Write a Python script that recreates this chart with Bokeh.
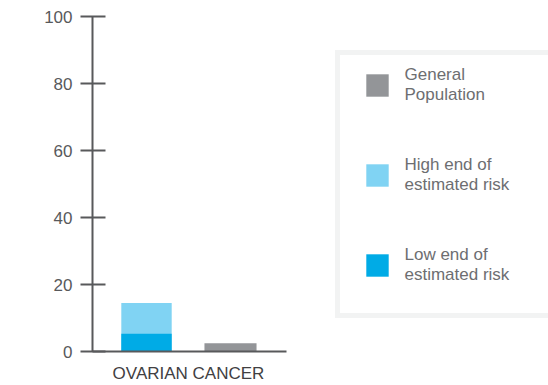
import math
from bokeh.plotting import figure
from bokeh.models import Range1d, FixedTicker, Legend, LegendItem, Label, ColumnDataSource
from bokeh.embed import file_html
from bokeh.resources import INLINE

# ---- data ----
categories = ["OVARIAN CANCER"]
low_end_risk = [5.3]
high_end_risk = [14.5]
general_population = [2.5]
y_ticks = [0, 20, 40, 60, 80, 100]
legend_labels = ["General\nPopulation", "High end of\nestimated risk", "Low end of\nestimated risk"]
y_title = "CUMULATIVE LIFETIME RISK (%)"

# ---- styles ----
FONT = "Liberation Sans"
AXIS_COL = "#58595b"
TEXT_DARK = "#414042"
C_GRAY = "#939598"
C_LIGHT = "#80d3f3"
C_BLUE = "#00abe6"

PX = 84.0  # pixels per x unit
x_start = -96 / PX
x_end = x_start + 456 / PX

p = figure(width=548, height=385, output_backend="svg", toolbar_location=None,
           x_range=Range1d(x_start, x_end), y_range=Range1d(0, 100),
           min_border_left=92, min_border_right=0, min_border_top=16, min_border_bottom=34)
p.outline_line_color = None
p.xgrid.visible = False
p.ygrid.visible = False
p.background_fill_color = "white"
p.border_fill_color = "white"

cat_x = list(range(len(categories)))
risk_x = [c - 0.5 for c in cat_x]
gen_x = [c + 0.5 for c in cat_x]

src_risk = ColumnDataSource(dict(x=risk_x, high=high_end_risk, low=low_end_risk))
src_gen = ColumnDataSource(dict(x=gen_x, top=general_population))

r_gen = p.vbar(x="x", top="top", bottom=0, width=0.62, source=src_gen,
               fill_color=C_GRAY, line_color=None)
r_high = p.vbar(x="x", top="high", bottom=0, width=0.6, source=src_risk,
                fill_color=C_LIGHT, line_color=None)
r_low = p.vbar(x="x", top="low", bottom=0, width=0.6, source=src_risk,
               fill_color=C_BLUE, line_color=None)

# y axis
ya = p.yaxis[0]
ya.ticker = FixedTicker(ticks=y_ticks)
ya.bounds = (0, 100)
ya.minor_tick_line_color = None
ya.major_tick_in = 13
ya.major_tick_out = 12
ya.major_tick_line_width = 2
ya.major_tick_line_color = AXIS_COL
ya.axis_line_width = 2
ya.axis_line_color = AXIS_COL
ya.major_label_standoff = 8
ya.major_label_text_font = FONT
ya.major_label_text_font_size = "17px"
ya.major_label_text_color = AXIS_COL

# x axis
xa = p.xaxis[0]
xa.ticker = FixedTicker(ticks=cat_x)
xa.major_label_overrides = {c: name for c, name in zip(cat_x, categories)}
xa.bounds = (x_start, x_start + 194 / PX)
xa.minor_tick_line_color = None
xa.major_tick_in = 0
xa.major_tick_out = 0
xa.axis_line_width = 2
xa.axis_line_color = AXIS_COL
xa.major_label_standoff = 12
xa.major_label_text_font = FONT
xa.major_label_text_font_size = "17px"
xa.major_label_text_color = TEXT_DARK

# y title
p.add_layout(Label(x=x_start - 74 / PX, y=45.4, text=y_title, angle=math.pi / 2,
                   text_align="center", text_baseline="middle",
                   text_font=FONT, text_font_size="17px", text_color=TEXT_DARK))

legend = Legend(items=[LegendItem(label=legend_labels[0], renderers=[r_gen]),
                       LegendItem(label=legend_labels[1], renderers=[r_high]),
                       LegendItem(label=legend_labels[2], renderers=[r_low])],
                location=(242.5, 33.5))
legend.glyph_width = 28
legend.glyph_height = 28
legend.label_standoff = 14
legend.label_width = 200
legend.spacing = 50
try:
    legend.padding = dict(left=23, right=26, top=10, bottom=28)
except Exception:
    legend.padding = (23, 10, 26, 28)
legend.margin = 0
legend.border_line_color = "#e6e7e8"
legend.border_line_width = 5
legend.background_fill_color = "white"
legend.background_fill_alpha = 1
legend.label_text_font = FONT
legend.label_text_font_size = "17px"
legend.label_text_color = "#6d6e71"
p.add_layout(legend, "center")

open("out.html", "w").write(file_html(p, INLINE))
